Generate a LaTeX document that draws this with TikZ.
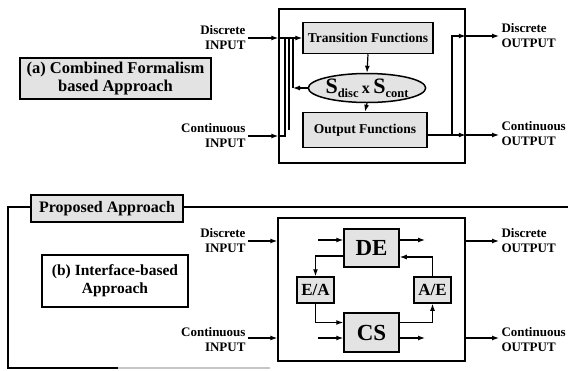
\documentclass[tikz,border=0pt]{standalone}
\usepackage{fontspec}
\setmainfont{Liberation Serif}
\usetikzlibrary{arrows.meta,shapes.geometric}

\tikzset{
  frame/.style={draw, line width=1.5pt},
  grbox/.style={draw, line width=1.5pt, fill=gray!22, align=center,
    font=\bfseries\fontsize{13.5}{15}\selectfont},
  titlebox/.style={draw, line width=1.5pt, fill=gray!22, align=center,
    font=\bfseries\fontsize{16.5}{17.5}\selectfont},
  plainbox/.style={draw, line width=1.5pt, fill=white, align=center,
    font=\bfseries\fontsize{15.5}{18}\selectfont},
  inlbl/.style={anchor=east, align=right, outer sep=2.5pt,
    font=\bfseries\fontsize{13}{15}\selectfont},
  outlbl/.style={anchor=west, align=left, outer sep=2.5pt,
    font=\bfseries\fontsize{13}{15}\selectfont},
}

\begin{document}
\begin{tikzpicture}[x=1pt, y=-1pt, line width=1.2pt,
    >={Latex[length=7pt,width=5pt]}, every node/.style={inner sep=0pt}]
  \useasboundingbox (0,0) rectangle (568,370);

  % (a) Combined formalism
  \node[frame, minimum width=186, minimum height=154] (boxA) at (372,86) {};
  \node[grbox, minimum width=130, minimum height=31] (trans) at (368,38) {Transition Functions};
  \node[grbox, ellipse, minimum width=107, minimum height=29] (state) at (367,88)
    {{\fontsize{22}{22}\selectfont S}\raisebox{-4pt}{\fontsize{12.5}{13}\selectfont disc}
     {\fontsize{16}{17}\selectfont x}
     {\fontsize{22}{22}\selectfont S}\raisebox{-4pt}{\fontsize{12.5}{13}\selectfont cont}};
  \node[grbox, minimum width=124, minimum height=35] (outf) at (365,130) {Output Functions};
  \node[titlebox, minimum width=191, minimum height=41] (combA) at (115.5,78.5)
    {(a) Combined Formalism\\based Approach};

  \node[inlbl] (dinA) at (248,38) {Discrete\\INPUT};
  \node[inlbl] (cinA) at (248,136) {Continuous\\INPUT};
  \node[outlbl] (doutA) at (499,36) {Discrete\\OUTPUT};
  \node[outlbl] (coutA) at (499,134) {Continuous\\OUTPUT};

  \coordinate (busA) at (285,38);
  \coordinate (busB) at (289,38);
  \coordinate (busC) at (293,38);
  \coordinate (busEnd) at (289,130);
  \coordinate (splA) at (452,135);

  \draw[->] (dinA.east) -- (dinA.east -| boxA.west);
  \draw[->] (dinA.east -| boxA.west) -- (trans.west);
  \draw[->] (cinA.east) -- (cinA.east -| boxA.west);
  \draw (cinA.east -| boxA.west) -| (busA);
  \draw (busB) -- (busEnd);
  \draw[->] (trans.south) -- (state.north);
  \draw[->] (state.south) -- (outf.north);
  \draw[->] (state.west) -- (state.west -| busC);
  \draw (state.west -| busC) -- (busC);
  \draw (outf.east |- splA) -- (splA);
  \draw[->] (splA) -- (splA -| boxA.east);
  \draw[->] (splA -| boxA.east) -- (splA -| coutA.west);
  \draw[->] (splA) |- (doutA.west -| boxA.east);
  \draw[->] (doutA.west -| boxA.east) -- (doutA.west);

  % (b) Interface-based
  \draw (568,207) -- (8,207) -- (8,368) -- (118,368);
  \draw[gray!45] (118,368) -- (270,368);
  \node[titlebox, font=\bfseries\fontsize{16}{17}\selectfont,
    minimum width=152, minimum height=27] (propB) at (107,208.5) {Proposed Approach};
  \node[plainbox, minimum width=146, minimum height=52] (intfB) at (115,281)
    {(b) Interface-based\\Approach};

  \node[frame, minimum width=187, minimum height=143] (boxB) at (371.5,289.5) {};
  \node[grbox, font=\bfseries\fontsize{23}{24}\selectfont,
    minimum width=55, minimum height=38] (de) at (371.5,248) {DE};
  \node[grbox, font=\bfseries\fontsize{23}{24}\selectfont,
    minimum width=55, minimum height=39] (cs) at (371.5,332.5) {CS};
  \node[grbox, font=\bfseries\fontsize{17}{18}\selectfont,
    minimum width=37, minimum height=26] (ea) at (315.5,290) {E/A};
  \node[grbox, font=\bfseries\fontsize{17}{18}\selectfont,
    minimum width=37, minimum height=26] (ae) at (432.5,290) {A/E};

  \node[inlbl] (dinB) at (248,241) {Discrete\\INPUT};
  \node[inlbl] (cinB) at (248,340) {Continuous\\INPUT};
  \node[outlbl] (doutB) at (499,241) {Discrete\\OUTPUT};
  \node[outlbl] (coutB) at (499,340) {Continuous\\OUTPUT};

  \coordinate (deIn) at (318,240);
  \coordinate (deOut) at (425,240);
  \coordinate (csIn) at (318,338);
  \coordinate (csOut) at (425,338);

  \draw[->] (dinB.east) -- (dinB.east -| boxB.west);
  \draw[->] (cinB.east |- csIn) -- (csIn -| boxB.west);
  \draw[->] (doutB.west -| boxB.east) -- (doutB.west);
  \draw[->] (csIn -| boxB.east) -- (csIn -| coutB.west);
  \draw[->] (deIn) -- (deIn -| de.west);
  \draw[->] (deOut -| de.east) -- (deOut);
  \draw[->] (csIn) -- (csIn -| cs.west);
  \draw[->] (csOut -| cs.east) -- (csOut);
  \draw[->] ([yshift=-8pt]de.west) -| (ea.north);
  \draw[->] (ea.south) |- ([yshift=10pt]cs.west);
  \draw[->] ([yshift=10pt]cs.east) -| (ae.south);
  \draw[->] (ae.north) |- ([yshift=-9pt]de.east);
\end{tikzpicture}
\end{document}
